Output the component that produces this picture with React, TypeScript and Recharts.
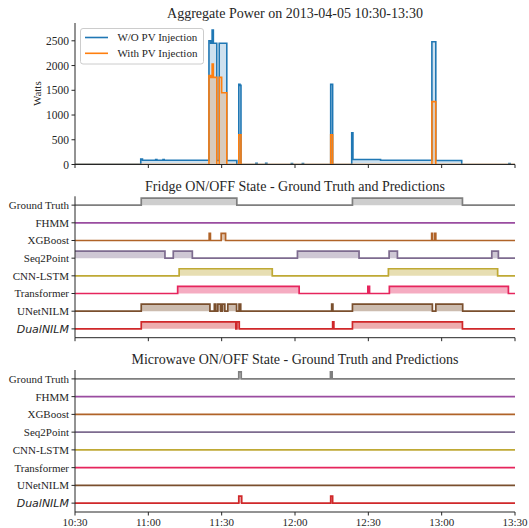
import React from "react";
import { ComposedChart, Area, XAxis, YAxis } from "recharts";

const WIDTH = 529;
const SERIF = '"Liberation Serif", "Times New Roman", serif';
const INK = "#262626";
const ON_HEIGHT = 0.4;

// x values are minutes after 10:30
const timeTicks = [0, 30, 60, 90, 120, 150, 180];
const timeLabels = ["10:30", "11:00", "11:30", "12:00", "12:30", "13:00", "13:30"];

// aggregate power (W), step-after samples
const aggMinutes = [0, 26.9, 27.6, 33, 33.5, 36, 36.5, 54.8, 55.5, 56.1, 56.6, 58.0, 59.0, 60.0, 62.1, 66.2, 67.0, 67.5, 67.9, 74, 74.5, 78, 78.5, 88.5, 89, 93, 93.5, 104.6, 105.4, 113.2, 113.7, 125, 146.0, 147.6, 158.2, 177.5, 178, 180];
const aggWithoutPV = [3, 110, 85, 100, 85, 98, 85, 2500, 2450, 2720, 2450, 80, 2450, 2450, 80, 0, 1620, 1600, 0, 25, 0, 25, 0, 20, 0, 20, 0, 1620, 0, 640, 100, 85, 2480, 82, 0, 20, 0, 0];
const aggWithPV = [0, 0, 0, 0, 0, 0, 0, 1800, 1760, 2030, 1760, 0, 1760, 1450, 0, 0, 600, 600, 0, 0, 0, 0, 0, 0, 0, 0, 0, 600, 0, 0, 0, 0, 1270, 0, 0, 0, 0, 0];
const powerTicks = [0, 500, 1000, 1500, 2000, 2500];

// model rows, top to bottom
const models = ["Ground Truth", "FHMM", "XGBoost", "Seq2Point", "CNN-LSTM", "Transformer", "UNetNILM", "DualNILM"];
const modelColors = ["#7f7f7f", "#9a4ca0", "#b06328", "#7d6b8f", "#bfa935", "#e6255d", "#7a4f2d", "#d0282a"];

// ON intervals [start, end] in minutes
const fridgeGroundTruth = [[27.1, 66.2], [113.5, 158.5]];
const fridgeFHMM: number[][] = [];
const fridgeXGBoost = [[54.9, 55.4], [59.8, 61.6], [145.9, 146.3], [147.2, 147.6]];
const fridgeSeq2Point = [[0, 36.8], [40.2, 48], [91, 116.2], [128.5, 131.9], [170.5, 173.2]];
const fridgeCNNLSTM = [[42.6, 80.7], [128.2, 172.9]];
const fridgeTransformer = [[42, 91.7], [119.8, 120.5], [128.6, 177.3]];
const fridgeUNetNILM = [[27.1, 55.2], [57.0, 57.6], [58.4, 59.6], [60.3, 61.3], [62.5, 66.1], [67.1, 67.8], [105, 105.5], [113.5, 146.2], [147.6, 158.6]];
const fridgeDualNILM = [[27.1, 65.8], [66.2, 67.2], [105.4, 105.9], [113.5, 158.5]];

const microwaveGroundTruth = [[67.0, 68.0], [104.5, 105.2]];
const microwaveFHMM: number[][] = [];
const microwaveXGBoost: number[][] = [];
const microwaveSeq2Point: number[][] = [];
const microwaveCNNLSTM: number[][] = [];
const microwaveTransformer: number[][] = [];
const microwaveUNetNILM: number[][] = [];
const microwaveDualNILM = [[67.0, 68.2], [104.6, 105.4]];

const fridgeSeries = [fridgeGroundTruth, fridgeFHMM, fridgeXGBoost, fridgeSeq2Point, fridgeCNNLSTM, fridgeTransformer, fridgeUNetNILM, fridgeDualNILM];
const microwaveSeries = [microwaveGroundTruth, microwaveFHMM, microwaveXGBoost, microwaveSeq2Point, microwaveCNNLSTM, microwaveTransformer, microwaveUNetNILM, microwaveDualNILM];

const aggData = aggMinutes.map((t, i) => ({ t, wo: aggWithoutPV[i], w: aggWithPV[i] }));

// row i sits at offset (7 - i); ON lifts it by ON_HEIGHT
const buildStateTable = (series: number[][][]) => {
  const times = new Set<number>([0, 180]);
  series.forEach((s) => s.forEach(([a, b]) => { times.add(a); times.add(b); }));
  return [...times].sort((a, b) => a - b).map((t) => {
    const row: Record<string, number> = { t };
    series.forEach((s, i) => {
      const on = s.some(([a, b]) => t >= a && t < b);
      row[`s${i}`] = models.length - 1 - i + (on ? ON_HEIGHT : 0);
    });
    return row;
  });
};

const fridgeData = buildStateTable(fridgeSeries);
const microwaveData = buildStateTable(microwaveSeries);

const rowTicks = [0, 1, 2, 3, 4, 5, 6, 7];

const RowTick = (props: any) => {
  const { x, y, payload } = props;
  const name = models[models.length - 1 - payload.value];
  const ours = name === "DualNILM";
  return (
    <text
      x={x}
      y={y}
      dy="0.36em"
      textAnchor="end"
      fontSize={11}
      fill={INK}
      fontFamily={ours ? '"DejaVu Sans", sans-serif' : SERIF}
      fontStyle={ours ? "italic" : "normal"}
    >
      {name}
    </text>
  );
};

const axisProps = {
  stroke: INK,
  tickSize: 3.5,
  tickMargin: 2.5,
};

const StatePanel = ({ data, top, height, marginTop, axisHeight, showLabels }: any) => (
  <div style={{ position: "absolute", left: 0, top }}>
    <ComposedChart width={WIDTH} height={height} data={data} margin={{ top: marginTop, right: 14, left: 0, bottom: 0 }}>
      {models.map((m, i) => (
        <Area
          key={m}
          type="stepAfter"
          dataKey={`s${i}`}
          baseValue={models.length - 1 - i}
          stroke={modelColors[i]}
          strokeWidth={1.7}
          fill={modelColors[i]}
          fillOpacity={0.38}
          dot={false}
          activeDot={false}
          isAnimationActive={false}
        />
      ))}
      <XAxis
        type="number"
        dataKey="t"
        domain={[0, 180]}
        ticks={timeTicks}
        interval={0}
        allowDataOverflow
        height={axisHeight}
        {...axisProps}
        tick={{ fontSize: 11, fill: INK, fontFamily: SERIF }}
        tickFormatter={(v: number) => (showLabels ? timeLabels[timeTicks.indexOf(v)] : "")}
      />
      <YAxis
        type="number"
        domain={[-0.5, 7.5]}
        ticks={rowTicks}
        interval={0}
        width={75}
        {...axisProps}
        tick={<RowTick />}
      />
    </ComposedChart>
  </div>
);

export default function App() {
  return (
    <div style={{ position: "absolute", left: 0, top: 0, width: WIDTH, height: 528, background: "#fff" }}>
      <div style={{ position: "absolute", left: 0, top: 0 }}>
        <ComposedChart width={WIDTH} height={175} data={aggData} margin={{ top: 23, right: 14, left: 0, bottom: 0 }}>
          <Area type="stepAfter" dataKey="wo" name="W/O PV Injection" baseValue={0} stroke="#1f77b4" strokeWidth={1.6} fill="#1f77b4" fillOpacity={0.22} dot={false} activeDot={false} isAnimationActive={false} />
          <Area type="stepAfter" dataKey="w" name="With PV Injection" baseValue={0} stroke="#ff7f0e" strokeWidth={1.6} fill="#ff7f0e" fillOpacity={0.22} dot={false} activeDot={false} isAnimationActive={false} />
          <XAxis
            type="number"
            dataKey="t"
            domain={[0, 180]}
            ticks={timeTicks}
            interval={0}
            allowDataOverflow
            height={10.5}
            {...axisProps}
            tick={{ fontSize: 11, fill: INK, fontFamily: SERIF }}
            tickFormatter={() => ""}
          />
          <YAxis
            type="number"
            domain={[0, 2860]}
            ticks={powerTicks}
            interval={0}
            allowDataOverflow
            width={75}
            {...axisProps}
            tick={{ fontSize: 11.5, fill: INK, fontFamily: SERIF }}
          />
        </ComposedChart>
      </div>

      <StatePanel data={fridgeData} top={175} height={173} marginTop={21.3} axisHeight={10.3} showLabels={false} />
      <StatePanel data={microwaveData} top={348} height={180} marginTop={22} axisHeight={16} showLabels />

      <svg width={WIDTH} height={528} style={{ position: "absolute", left: 0, top: 0, pointerEvents: "none" }}>
        <g fontFamily={SERIF} fill={INK} textAnchor="middle" fontSize={14}>
          <text x={295} y={17.5}>Aggregate Power on 2013-04-05 10:30-13:30</text>
          <text x={295} y={190.5}>Fridge ON/OFF State - Ground Truth and Predictions</text>
          <text x={295} y={364.2}>Microwave ON/OFF State - Ground Truth and Predictions</text>
        </g>
        <text transform="translate(40.5,93.7) rotate(-90)" textAnchor="middle" fontFamily={SERIF} fontSize={11} fill={INK}>
          Watts
        </text>
        <rect x={80.5} y={28.5} width={123} height={35.5} rx={2.5} fill="#fff" fillOpacity={0.8} stroke="#cccccc" />
        <line x1={85} x2={108} y1={37.5} y2={37.5} stroke="#1f77b4" strokeWidth={1.6} />
        <line x1={85} x2={108} y1={53.3} y2={53.3} stroke="#ff7f0e" strokeWidth={1.6} />
        <g fontFamily={SERIF} fontSize={11} fill={INK}>
          <text x={117.4} y={41.3}>W/O PV Injection</text>
          <text x={117.4} y={57.1}>With PV Injection</text>
        </g>
      </svg>
    </div>
  );
}
